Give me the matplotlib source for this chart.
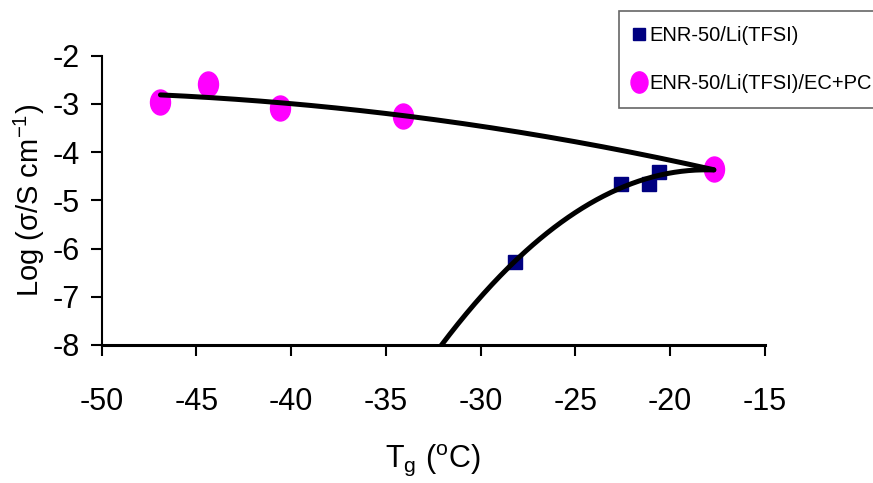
import numpy as np
import matplotlib
matplotlib.use("Agg")
import matplotlib.pyplot as plt
from matplotlib.path import Path

# ---- data ----
tg_salt = [-28.2, -22.6, -21.1, -20.6]
logsig_salt = [-6.27, -4.67, -4.67, -4.42]

tg_plast = [-46.9, -44.4, -40.6, -34.1, -17.7]
logsig_plast = [-2.97, -2.59, -3.09, -3.25, -4.36]

label_salt = "ENR-50/Li(TFSI)"
label_plast = "ENR-50/Li(TFSI)/EC+PC"

xticks = [-50, -45, -40, -35, -30, -25, -20, -15]
yticks = [-8, -7, -6, -5, -4, -3, -2]

# ---- font ----
fam = "Liberation Sans"
plt.rcParams["font.family"] = [fam, "DejaVu Sans"]
plt.rcParams["mathtext.fontset"] = "custom"
plt.rcParams["mathtext.rm"] = fam
plt.rcParams["mathtext.it"] = fam
plt.rcParams["mathtext.default"] = "regular"

W, H = 873, 483
fig = plt.figure(figsize=(W / 100, H / 100), dpi=100)
ax = fig.add_axes([101.7 / W, 1 - 345 / H, (765 - 101.7) / W, (345 - 55.7) / H])

# trendlines (2nd-order polynomial fits, as in the original spreadsheet chart)
cp = np.polyfit(tg_plast, logsig_plast, 2)
xp = np.linspace(min(tg_plast), max(tg_plast), 200)
ax.plot(xp, np.polyval(cp, xp), color="black", lw=3.6, zorder=3, solid_capstyle="round")

tg_salt_fit = tg_salt + [tg_plast[-1]]
ls_salt_fit = logsig_salt + [logsig_plast[-1]]
cs = np.polyfit(tg_salt_fit, ls_salt_fit, 2)
xs = np.linspace(-40, max(tg_plast), 300)
ys = np.polyval(cs, xs)
ax.plot(xs, ys, color="black", lw=3.6, zorder=3, solid_capstyle="round")

ell = Path(Path.unit_circle().vertices * np.array([0.8, 1.0]), Path.unit_circle().codes)

ax.plot(tg_salt, logsig_salt, ls="none", marker="s", ms=9.5, color="#000080",
        mec="#000080", label=label_salt, zorder=2)
ax.plot(tg_plast, logsig_plast, ls="none", marker=ell, ms=18, color="#FF00FF",
        mec="#FF00FF", label=label_plast, zorder=2)

ax.set_xlim(-50, -15)
ax.set_ylim(-8, -2)
ax.set_xticks(xticks)
ax.set_yticks(yticks)
ax.set_xticklabels([str(t) for t in xticks])
ax.set_yticklabels([str(t) for t in yticks])

for s in ["top", "right"]:
    ax.spines[s].set_visible(False)
ax.spines["left"].set_linewidth(1.5)
ax.spines["bottom"].set_linewidth(2.2)
ax.tick_params(axis="both", direction="out", length=8, width=1.5, labelsize=22)
ax.tick_params(axis="x", pad=22)
ax.tick_params(axis="y", pad=8)

ax.set_xlabel(r"T$_{g}$ ($^{o}$C)", fontsize=22, labelpad=18)
ax.set_ylabel(r"Log ($\sigma$/S cm$^{-1}$)", fontsize=21, labelpad=4)

leg = fig.legend(loc="upper left", bbox_to_anchor=(619 / W, 1 - 11 / H),
                 bbox_transform=fig.transFigure, fontsize=14.5, frameon=True,
                 fancybox=False, edgecolor="#404040", handlelength=0.5,
                 handletextpad=0.25, borderpad=0.75, labelspacing=1.45,
                 borderaxespad=0, markerscale=0.85)
leg.get_frame().set_linewidth(1.2)

fig.savefig("out.png", dpi=100)
